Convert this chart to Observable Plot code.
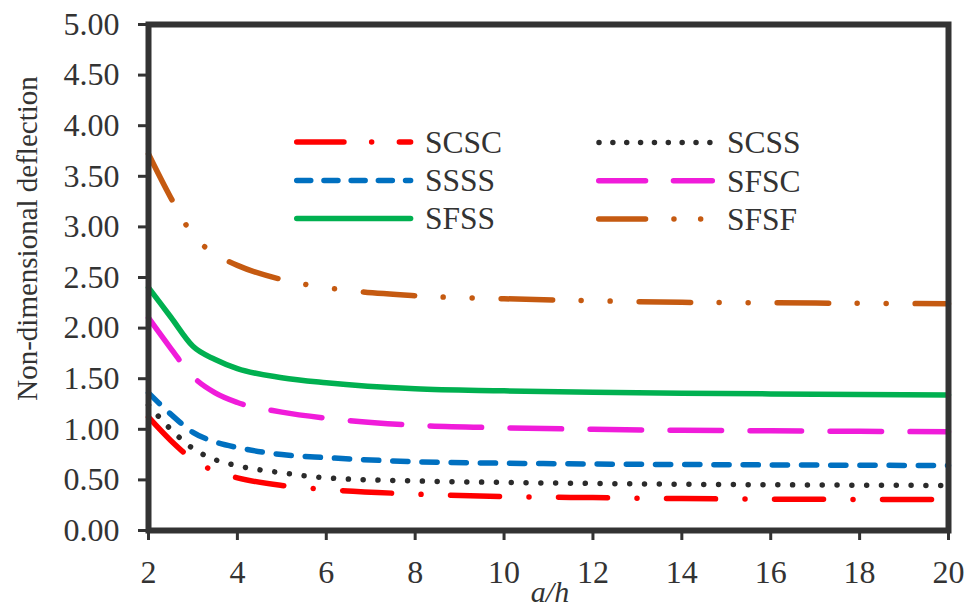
<!DOCTYPE html>
<html><head><meta charset="utf-8">
<script src="https://cdn.jsdelivr.net/npm/d3@7"></script>
<script src="https://cdn.jsdelivr.net/npm/@observablehq/plot@0.6"></script>
<style>
body{margin:0;background:#fff}
svg{font-family:"Liberation Serif","Times New Roman",serif}
</style>
</head><body><div id="chart"></div>
<script>
// ---- data ----
const aH   = [2, 2.5, 3, 3.5, 4, 5, 6, 8, 10, 12, 14, 16, 18, 20];
const SCSC = [1.12, 0.89, 0.70, 0.585, 0.52, 0.445, 0.405, 0.36, 0.335, 0.325, 0.315, 0.31, 0.307, 0.305];
const SCSS = [1.24, 1.00, 0.81, 0.70, 0.64, 0.57, 0.52, 0.49, 0.475, 0.465, 0.457, 0.452, 0.448, 0.445];
const SSSS = [1.36, 1.15, 0.97, 0.875, 0.82, 0.75, 0.72, 0.68, 0.665, 0.657, 0.652, 0.648, 0.645, 0.642];
const SFSC = [2.10, 1.80, 1.52, 1.36, 1.265, 1.17, 1.11, 1.04, 1.015, 1.00, 0.99, 0.985, 0.98, 0.975];
const SFSS = [2.40, 2.11, 1.82, 1.69, 1.60, 1.51, 1.46, 1.40, 1.38, 1.365, 1.355, 1.35, 1.345, 1.34];
const SFSF = [3.72, 3.29, 2.92, 2.73, 2.62, 2.48, 2.40, 2.32, 2.29, 2.27, 2.255, 2.25, 2.245, 2.24];
const seriesNames = ["SCSC", "SCSS", "SSSS", "SFSC", "SFSS", "SFSF"];
const seriesValues = [SCSC, SCSS, SSSS, SFSC, SFSS, SFSF];
const xTicks = [2, 4, 6, 8, 10, 12, 14, 16, 18, 20];
const yTicks = [0, 0.5, 1, 1.5, 2, 2.5, 3, 3.5, 4, 4.5, 5];
const xTitle = "a/h";
const yTitle = "Non-dimensional deflection";

// ---- styles ----
const styles = {
  SCSC: {color: "#FF0000", dash: "49,29.5,0.01,29.5", legendDash: "47.2,27.7,0.01,27.7"},
  SCSS: {color: "#2b2b2b", dash: "0.01,14.8", legendDash: "0.01,13.85"},
  SSSS: {color: "#0070C0", dash: "15.2,14", legendDash: "14,13.2"},
  SFSC: {color: "#F01CDA", dash: "51.5,28.5", legendDash: "46.8,27.9"},
  SFSS: {color: "#00B050", dash: null, legendDash: null},
  SFSF: {color: "#C55A11", dash: "51.5,28.5,0.01,29,0.01,29", legendDash: "46.8,28.4,0.01,26.7,0.01,40"}
};
const LW = 5.5;
const FONT = '"Liberation Serif","Times New Roman",serif';

const table = seriesNames.map((name, i) =>
  aH.map((a, j) => ({series: name, a, v: seriesValues[i][j]})));

const lineMarks = table.map((rows, i) => {
  const s = styles[seriesNames[i]];
  return Plot.line(rows, {
    x: "a", y: "v", curve: "monotone-x",
    stroke: s.color, strokeWidth: LW, strokeLinecap: "round",
    strokeDasharray: s.dash || undefined
  });
});

const chart = Plot.plot({
  width: 968, height: 607,
  marginLeft: 148, marginRight: 20, marginTop: 24, marginBottom: 77,
  style: {fontFamily: FONT, fontSize: "32px", color: "#333", background: "white"},
  x: {domain: [2, 20]},
  y: {domain: [0, 5]},
  marks: [
    ...lineMarks,
    Plot.axisX({ticks: xTicks, tickSize: 10, tickPadding: 19.3, strokeWidth: 3, stroke: "#333", fill: "#333", fontSize: 32, label: null}),
    Plot.axisY({ticks: yTicks, tickSize: 10, tickPadding: 19, strokeWidth: 3, stroke: "#333", fill: "#333", fontSize: 32, label: null, tickFormat: d => d.toFixed(2)}),
    Plot.frame({stroke: "#333", strokeWidth: 6})
  ]
});
document.getElementById("chart").appendChild(chart);

// ---- legend & titles ----
const svg = d3.select(chart);
const legendLayout = [
  {name: "SCSC", x0: 296.75, x1: 410.6, y: 142, tx: 425},
  {name: "SCSS", x0: 599,    x1: 710,   y: 142.5, tx: 727},
  {name: "SSSS", x0: 296.75, x1: 410.6, y: 180.5, tx: 425},
  {name: "SFSC", x0: 598.75, x1: 712.3, y: 180.7, tx: 727},
  {name: "SFSS", x0: 296.75, x1: 410.6, y: 218.5, tx: 425},
  {name: "SFSF", x0: 598.75, x1: 703,   y: 219,  tx: 727}
];
const lg = svg.append("g").attr("font-family", FONT);
legendLayout.forEach(d => {
  const s = styles[d.name];
  lg.append("line").attr("x1", d.x0).attr("x2", d.x1).attr("y1", d.y).attr("y2", d.y)
    .attr("stroke", s.color).attr("stroke-width", LW).attr("stroke-linecap", "round")
    .attr("stroke-dasharray", s.legendDash);
  lg.append("text").attr("x", d.tx).attr("y", d.y + 10.8).text(d.name)
    .attr("text-anchor", "start").attr("font-size", 31.5).attr("fill", "#333");
});
svg.append("text").attr("transform", "translate(36.5,238.5) rotate(-90)")
  .attr("font-family", FONT)
  .attr("text-anchor", "middle").attr("font-size", 29).attr("fill", "#333").text(yTitle);
svg.append("text").attr("x", 550).attr("y", 602).attr("text-anchor", "middle")
  .attr("font-family", FONT)
  .attr("font-size", 30).attr("font-style", "italic").attr("fill", "#333").text(xTitle);
</script>
</body></html>
